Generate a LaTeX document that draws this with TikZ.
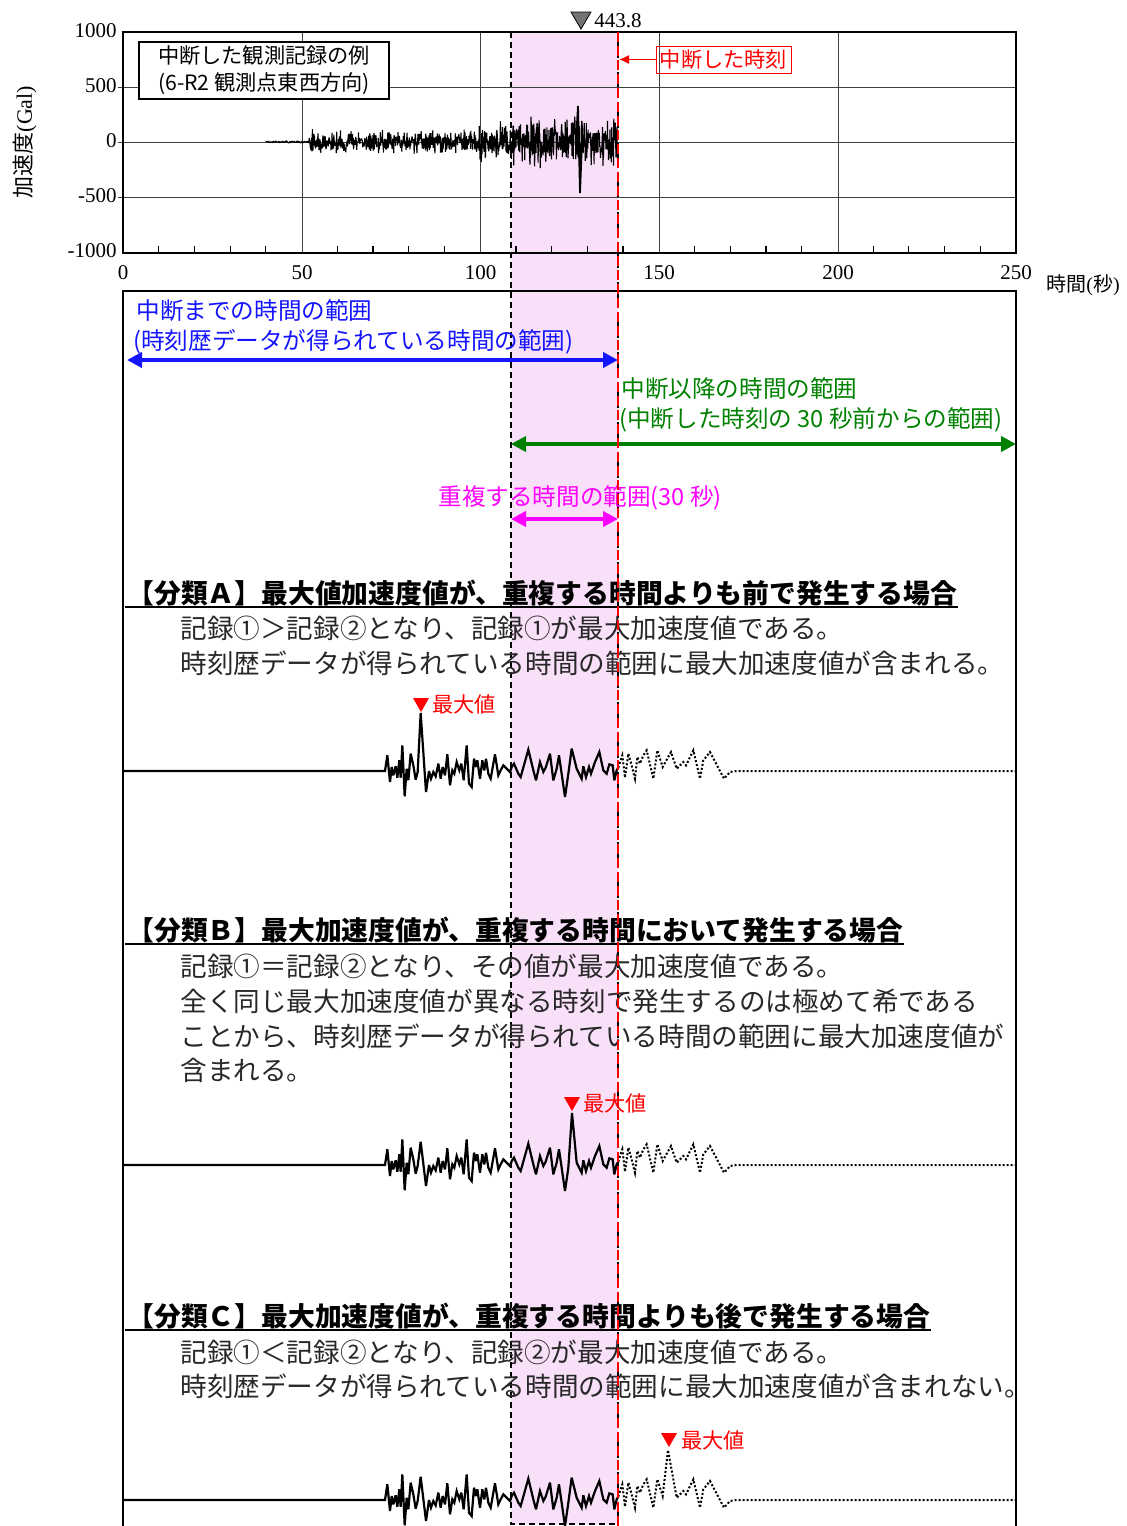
\documentclass[tikz,border=0pt]{standalone}
\usepackage{fontspec}
\setmainfont{Liberation Serif}
\newfontfamily\jp{Noto Sans CJK JP}
\usetikzlibrary{arrows.meta}
\definecolor{pinkband}{RGB}{248,224,248}
\definecolor{myblue}{RGB}{20,20,255}
\definecolor{mygreen}{RGB}{0,128,0}
\definecolor{mymag}{RGB}{255,0,255}
\definecolor{txtgray}{RGB}{40,40,40}
\newcommand{\mywave}[6]{%
\begin{scope}[shift={(370,#1)}, scale=1/3]
\draw[wavesolid] (-741,0) -- (45,0) -- (52,-47) -- (60,33) -- (65,-12) -- (70,13) -- (77,-14) -- (82,20) -- (88,-32) -- (92,20) -- (97,-77) -- (104,76) -- (110,-7) -- (115,28) -- (122,-52) -- (130,-17) -- (137,26) -- (143,3) -- (152,#2) -- (168,63) -- (177,0) -- (183,23) -- (190,3) -- (197,16) -- (205,-22) -- (212,23) -- (218,-12) -- (225,13) -- (232,-50) -- (240,43) -- (247,-2) -- (253,8) -- (260,-27) -- (268,-2) -- (274,-22) -- (281,28) -- (290,-77) -- (297,38) -- (305,48) -- (312,-37) -- (318,-12) -- (322,-32) -- (330,23) -- (337,-32) -- (343,-2) -- (348,-37) -- (355,8) -- (362,23) -- (375,-50) -- (385,13) -- (392,-2) -- (400,-17) -- (410,-7) -- (420,3) -- (425,-12) -- (432,-22) -- (445,8) -- (452,18) -- (475,-64) -- (490,-2) -- (498,28) -- (510,-27) -- (520,3) -- (527,-10) -- (540,-52) -- (550,28) -- (560,-7) -- (567,-47) -- (585,78) -- (595,8) -- (#3,#4) -- (620,-7) -- (635,23) -- (640,-14) -- (648,18) -- (657,-12) -- (663,8) -- (675,-27) -- (688,-57) -- (700,-2) -- (710,8) -- (718,-20) -- (728,-17) -- (733,28) -- (740,-2) -- (745,-10);
\draw[wavedot] (745,-10) -- (750,-27) -- (757,-47) -- (765,20) -- (775,-52) -- (785,-17) -- (795,23) -- (802,-42) -- (810,-22) -- (820,-47) -- (830,-62) -- (850,23) -- (862,-62) -- (878,-12) -- (#5,#6) -- (920,-7) -- (940,-27) -- (948,-17) -- (970,-62) -- (990,23) -- (1000,-32) -- (1020,-57) -- (1062,23) -- (1080,3) -- (1100,0) -- (1938,0);
\end{scope}}
\begin{document}
\begin{tikzpicture}[x=0.5pt,y=-0.5pt,
  declare function={env(\s)=(\s<52)?1.2:((\s<99)?10:((\s<108)?17:22));},
  grid/.style={black!75, line width=0.5pt},
  num/.style={font=\fontsize{10.5pt}{12pt}\selectfont, inner sep=0pt},
  jtxt/.style={font=\jp\fontsize{13.3pt}{16pt}\selectfont, inner sep=0pt, anchor=west, text=txtgray},
  jhead/.style={font=\jp\bfseries\fontsize{13.4pt}{16pt}\selectfont, inner sep=0pt, anchor=west},
  jmid/.style={font=\jp\fontsize{11.8pt}{14pt}\selectfont, inner sep=0pt, anchor=west},
  jsmall/.style={font=\jp\fontsize{10.6pt}{13.5pt}\selectfont},
  rangearrow/.style={line width=2pt, {Triangle[length=7.5pt,width=7.5pt]}-{Triangle[length=7.5pt,width=7.5pt]}},
  wavesolid/.style={line width=1.1pt, line join=miter, miter limit=4},
  wavedot/.style={line width=1pt, dash pattern=on 1pt off 1pt},
  maxmark/.style={fill=red, draw=none},
  maxlbl/.style={jsmall, text=red, inner sep=0pt, anchor=west}]
\useasboundingbox (0,0) rectangle (1127,1526);

% pink overlap band
\fill[pinkband] (511,32) rectangle (618,1524);
\draw[black, line width=0.55pt, dash pattern=on 3pt off 2pt] (511,32) -- (511,1524) -- (618,1524);
\draw[black, line width=0.55pt, dash pattern=on 3pt off 2pt] (618,32) -- (618,1526);

% ---------- top chart ----------
\foreach \yy in {87,142,197} \draw[grid] (118,\yy) -- (1016,\yy);
\foreach \xx in {302,480.6,659,838} \draw[grid] (\xx,32) -- (\xx,253);
\foreach \t in {10,20,30,40,60,70,80,90,110,120,130,140,160,170,180,190,210,220,230,240}
  \draw[black, line width=0.6pt] ({123+3.572*\t},253) -- ++(0,-7);

\begin{scope}
\clip (123,32) rectangle (1016,253);
\pgfmathsetseed{4321}
\draw[line width=0.55pt, line join=bevel] plot[domain=40:138.5, samples=1000, variable=\t]
  ({123+3.572*\t},{142+env(\t)*rand*(0.35+rnd)});
\draw[line width=0.9pt] (576,141) -- (578,106) -- (580,193) -- (582,141);
\end{scope}
\draw[line width=1.3pt] (123,32) rectangle (1016,253);

% y numbers
\node (y1000) [num, anchor=east] at (117,31) {1000};
\node (y500) [num, anchor=east] at (117,86) {500};
\node (y0) [num, anchor=east] at (117,141) {0};
\node (ym500) [num, anchor=east] at (117,196) {-500};
\node (ym1000) [num, anchor=east] at (117,251) {-1000};
% x numbers
\node (x0) [num] at (123,273) {0};
\node (x50) [num] at (302,273) {50};
\node (x100) [num] at (480.6,273) {100};
\node (x150) [num] at (659,273) {150};
\node (x200) [num] at (838,273) {200};
\node (x250) [num] at (1016,273) {250};
\node (xlab) [font=\fontsize{10pt}{12pt}\selectfont, inner sep=0pt] at (1083,285) {{\jp 時間}({\jp 秒})};
\node (ylab) [rotate=90, font=\fontsize{11pt}{13pt}\selectfont, inner sep=0pt] at (25,142) {{\jp 加速度}(Gal)};

% legend box
\node (legend) [draw, fill=white, line width=0.6pt, jsmall, align=center, minimum width=125pt, minimum height=28.5pt, inner sep=1pt] at (264,70.5) {中断した観測記録の例\\(6-R2 観測点東西方向)};

% 443.8 marker
\filldraw[fill=black!55, draw=black, line width=0.4pt] (571,12) -- (591,12) -- (581,29) -- cycle;
\node (t443) [num, anchor=west] at (594,21) {443.8};

% stop label
\node (stoplabel) [draw=red, line width=0.5pt, text=red, jsmall, minimum width=67.5pt, minimum height=13.5pt, inner sep=0pt] at (723.5,59.5) {中断した時刻};
\coordinate (stoppt) at (619,59.5);
\draw[red, line width=0.6pt, -{Latex[length=5pt,width=4.5pt]}] (stoplabel.west) -- (stoppt);

% ---------- lower box ----------
\draw[line width=1.2pt] (123,1526) -- (123,291) -- (1016,291) -- (1016,1526);

% blue range
\node (bl1) [jmid, text=myblue] at (136,311) {中断までの時間の範囲};
\node (bl2) [jmid, text=myblue] at (133,342) {(時刻歴データが得られている時間の範囲)};
\coordinate (bA) at (127,360); \coordinate (bB) at (618,360);
\draw[rangearrow, myblue] (bA) -- (bB);

% green range
\node (gr1) [jmid, text=mygreen] at (621,389) {中断以降の時間の範囲};
\node (gr2) [jmid, text=mygreen] at (619,420) {(中断した時刻の 30 秒前からの範囲)};
\coordinate (gA) at (511,444); \coordinate (gB) at (1016,444);
\draw[rangearrow, mygreen] (gA) -- (gB);

% magenta range
\node (mg1) [jmid, text=mymag] at (438,498) {重複する時間の範囲(30 秒)};
\coordinate (mA) at (511,519); \coordinate (mB) at (618,519);
\draw[rangearrow, mymag] (mA) -- (mB);

% ---------- class A ----------
\node (headA) [jhead] at (127,593) {【分類Ａ】最大値加速度値が、重複する時間よりも前で発生する場合};
\draw[line width=1pt] (125,607) -- (headA.east |- {(0,607)});
\node (a1) [jtxt] at (180,628) {記録①＞記録②となり、記録①が最大加速度値である。};
\node (a2) [jtxt] at (180,663) {時刻歴データが得られている時間の範囲に最大加速度値が含まれる。};
\mywave{771}{-174}{605}{-67}{903}{-57}
\fill[maxmark] (413,698) -- (429,698) -- (421,712) -- cycle;
\node (maxA) [maxlbl] at (432,704) {最大値};

% ---------- class B ----------
\node (headB) [jhead] at (127,930) {【分類Ｂ】最大加速度値が、重複する時間において発生する場合};
\draw[line width=1pt] (125,944) -- (headB.east |- {(0,944)});
\node (b1) [jtxt] at (180,966) {記録①＝記録②となり、その値が最大加速度値である。};
\node (b2) [jtxt] at (180,1001) {全く同じ最大加速度値が異なる時刻で発生するのは極めて希である};
\node (b3) [jtxt] at (180,1036) {ことから、時刻歴データが得られている時間の範囲に最大加速度値が};
\node (b4) [jtxt] at (180,1070) {含まれる。};
\mywave{1165}{-70}{606}{-156}{903}{-57}
\fill[maxmark] (564,1097) -- (580,1097) -- (572,1111) -- cycle;
\node (maxB) [maxlbl] at (583,1103) {最大値};

% ---------- class C ----------
\node (headC) [jhead] at (127,1316) {【分類Ｃ】最大加速度値が、重複する時間よりも後で発生する場合};
\draw[line width=1pt] (125,1330) -- (headC.east |- {(0,1330)});
\node (c1) [jtxt] at (180,1352) {記録①＜記録②となり、記録②が最大加速度値である。};
\node (c2) [jtxt] at (180,1386) {時刻歴データが得られている時間の範囲に最大加速度値が含まれない。};
\mywave{1500}{-70}{605}{-67}{894}{-150}
\fill[maxmark] (661,1433) -- (677,1433) -- (669,1447) -- cycle;
\node (maxC) [maxlbl] at (681,1440) {最大値};

% red dashed stop line on top
\coordinate (redtop) at (618,32); \coordinate (redbot) at (618,1526);
\draw[red, line width=1pt, dash pattern=on 5pt off 2pt] (redtop) -- (redbot);
\end{tikzpicture}
\end{document}
